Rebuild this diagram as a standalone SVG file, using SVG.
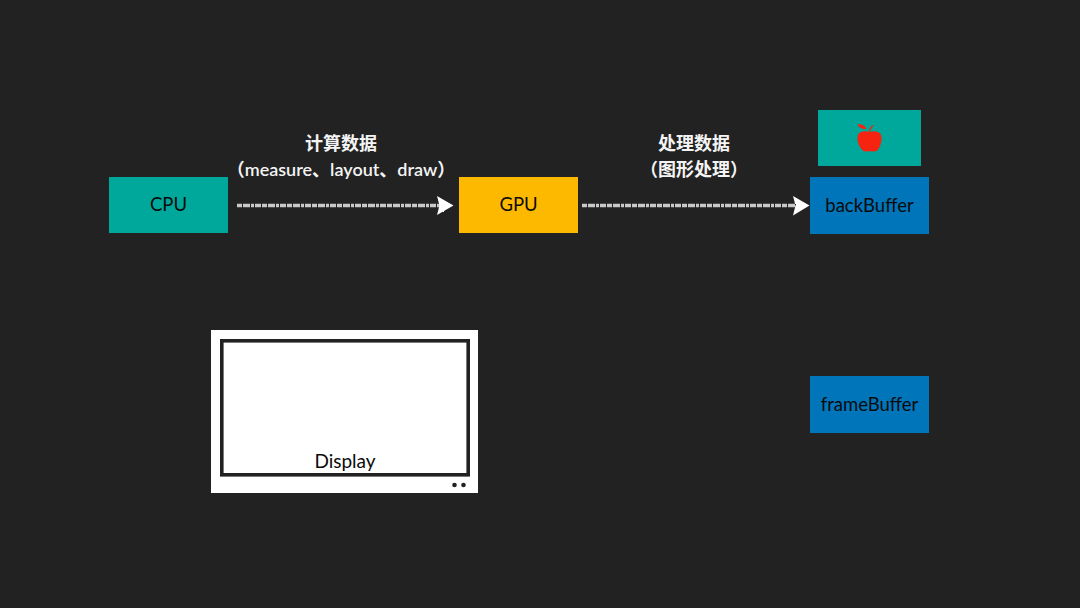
<svg xmlns="http://www.w3.org/2000/svg" width="1080" height="608" viewBox="0 0 1080 608">
<style>
.lbl{font-family:"Lato","Noto Sans CJK SC",sans-serif;font-size:18.500px;fill:#0b0b0b;text-anchor:middle}
.cap{font-family:"Lato","Noto Sans CJK SC",sans-serif;font-size:18px;font-weight:700;fill:#f4f4f4;text-anchor:middle}
.chalk{fill:none;stroke:#fff;stroke-width:2.200;filter:url(#rough)}
.chalk2{fill:none;stroke:#c8c8c8;stroke-width:3.600;stroke-dasharray:5 1 7 1 3 1 6 1}
.head{fill:#fff;filter:url(#rough)}
</style>
<defs>
<filter id="rough" x="-5%" y="-200%" width="110%" height="500%">
<feTurbulence type="fractalNoise" baseFrequency="0.7" numOctaves="2" seed="4"/>
<feDisplacementMap in="SourceGraphic" scale="1.600" xChannelSelector="R" yChannelSelector="G"/>
</filter>
</defs>
<rect width="1080" height="608" fill="#222222"/>
<g id="connectors">
<g id="arrow-cpu-gpu">
<path class="chalk2" d="M237 205.500H440"/>
<path class="chalk" d="M237 205.500H440"/>
<path class="head" d="M437 196L453.500 205.500L437 215L439.500 205.500Z"/>
</g>
<g id="arrow-gpu-back">
<path class="chalk2" d="M582 205.500H796"/>
<path class="chalk" d="M582 205.500H796"/>
<path class="head" d="M793 196L809.500 205.500L793 215.500L795.500 205.500Z"/>
</g>
</g>
<g id="cpu"><rect x="109" y="177" width="119" height="56" fill="#00a89b"/><text class="lbl" x="168.500" y="210.500">CPU</text></g>
<g id="gpu"><rect x="459" y="177" width="119" height="56" fill="#fdb900"/><text class="lbl" x="518.500" y="210.500">GPU</text></g>
<g id="backBuffer"><rect x="810" y="177" width="119" height="57" fill="#0075ba"/><text class="lbl" x="869.500" y="211.500">backBuffer</text></g>
<g id="frameBuffer"><rect x="810" y="376" width="119" height="57" fill="#0075ba"/><text class="lbl" x="869.500" y="410.500">frameBuffer</text></g>
<g id="apple-frame"><rect x="818" y="110" width="103" height="56" fill="#00a89b"/>
<path d="M869.500 132.500C873 130.500 878 130.500 880.500 134C882.500 137.500 881.500 143 879.500 147C878 150.500 875.500 152 873 151.500C871 151 868.500 151 866.500 151.500C864 152 861.500 150 860 147C857.500 142.500 856.500 137 858.500 134C861 130.500 866 130.500 869.500 132.500Z" fill="#f5230f"/>
<path d="M857.500 124.500C861 123.500 865 125 866.500 129C862.500 129.500 859 128 857.500 124.500Z" fill="#f5230f"/>
<path d="M869 133C869.500 130 870.500 127.500 873 125.500" fill="none" stroke="#f5230f" stroke-width="1.300"/>
</g>
<g id="label-compute"><text class="cap" x="341" y="149.500">计算数据</text><text class="cap" x="341" y="175.500" style="font-weight:600">（measure、layout、draw）</text></g>
<g id="label-process"><text class="cap" x="694" y="149.500">处理数据</text><text class="cap" x="694" y="175.500">（图形处理）</text></g>
<g id="display">
<rect x="211" y="330" width="267" height="163" fill="#fff"/>
<rect x="221.800" y="340.800" width="246.400" height="134" fill="#fff" stroke="#222" stroke-width="3.600"/>
<text class="lbl" x="345" y="467.500" style="font-size:19px">Display</text>
<circle cx="454.500" cy="485" r="2.300" fill="#222"/><circle cx="463.500" cy="485" r="2.300" fill="#222"/>
</g>
</svg>
